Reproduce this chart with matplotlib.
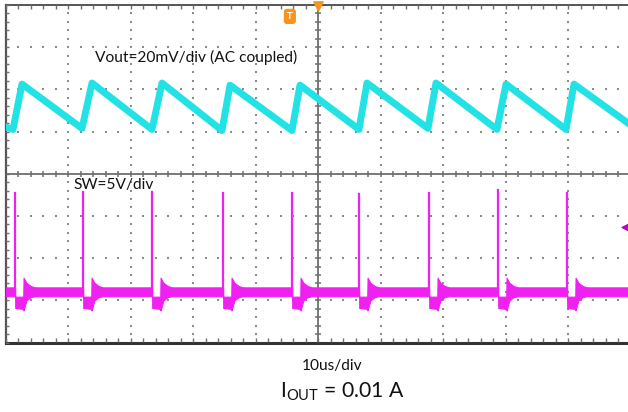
import matplotlib.pyplot as plt
import numpy as np

plt.rcParams['font.family'] = ['Lato', 'DejaVu Sans']
plt.rcParams['mathtext.default'] = 'regular'

# time base 10 us/div, 10 divisions across, 8 divisions high
# Vout: 20 mV/div (AC coupled), trace sits 1.6 div above centre
vout_valley_t = [1.2, 12.24, 23.44, 34.64, 45.84, 56.56, 67.6, 78.64, 89.68]
vout_valley_mv = [-11, -10.5, -11, -11.5, -11.5, -11, -10.5, -11, -11]
vout_peak_t = [2.64, 13.84, 25.04, 35.92, 47.12, 57.84, 68.88, 80.08, 90.96]
vout_peak_mv = [10.5, 11, 11, 10, 10, 11, 11, 10.5, 10.5]
vout_start = (-0.3, -9.5)
vout_end = (99.6, -8.0)
vout_offset_div = 1.6

# SW: 5 V/div, baseline 2.8 div below centre
sw_edge_t = [1.52, 12.4, 23.44, 34.8, 45.84, 56.56, 67.76, 78.8, 89.84]
sw_spike_v = [11.8, 11.9, 11.9, 11.8, 11.8, 11.7, 11.8, 12.1, 11.8]
# band around each switching edge: time offset (us), top (V), bottom (V)
sw_shape_dt = [0.1, 0.12, 1.4, 1.45, 1.9, 2.6, 3.3]
sw_shape_hi = [0.55, -0.55, -0.55, 1.7, 1.1, 0.7, 0.55]
sw_shape_lo = [-0.5, -1.9, -2.0, -2.2, -1.0, -0.6, -0.5]
sw_base_hi, sw_base_lo = 0.55, -0.5
sw_offset_div = -2.815

cyan = '#22e2e6'
magenta = '#f020f0'
orange = '#f7941d'
grid_c = '#8c8c8c'
line_c = '#6e6e6e'

fig = plt.figure(figsize=(6.28, 4.12), dpi=100)
ax = fig.add_axes([5.5 / 628, (412 - 342.5) / 412, 625 / 628, 337.5 / 412])
ax.set_xlim(0, 100)
ax.set_ylim(-4, 4)
ax.axis('off')

# dotted graticule
minor_y = np.arange(-4, 4.01, 0.2)
minor_x = np.arange(0, 100.01, 2)
for gx in range(10, 100, 10):
    if gx == 50:
        continue
    ax.scatter(np.full_like(minor_y, gx), minor_y, s=2.2, marker='s', color=grid_c, lw=0, zorder=1)
for gy in range(-3, 4):
    if gy == 0:
        continue
    ax.scatter(minor_x, np.full_like(minor_x, gy), s=2.2, marker='s', color=grid_c, lw=0, zorder=1)

# centre cross with ticks
ax.axvline(50, color=line_c, lw=1.3, zorder=2)
ax.axhline(0, color=line_c, lw=1.3, zorder=2)
ax.plot(np.full_like(minor_y, 50), minor_y, ls='', marker='_', ms=5, mew=1.1, color=line_c, zorder=2)
ax.plot(minor_x, np.zeros_like(minor_x), ls='', marker='|', ms=5, mew=1.1, color=line_c, zorder=2)

# border with inward ticks
ax.plot([0, 0], [-4, 4], color='#555555', lw=1.6, clip_on=False, zorder=2)
ax.plot([0, 100.6], [4, 4], color='#555555', lw=1.4, clip_on=False, zorder=2)
ax.plot([0, 100.6], [-4, -4], color='#333333', lw=2.2, clip_on=False, zorder=2)
ax.plot(minor_x, np.full_like(minor_x, 3.95), ls='', marker='|', ms=3, mew=1.0, color=line_c, zorder=2)
ax.plot(minor_x, np.full_like(minor_x, -3.95), ls='', marker='|', ms=3, mew=1.0, color=line_c, zorder=2)
ax.plot(np.full_like(minor_y, 0.3), minor_y, ls='', marker='_', ms=3, mew=1.0, color=line_c, zorder=2)

# Vout trace
vt = [vout_start[0]]
vv = [vout_start[1]]
for t0, v0, t1, v1 in zip(vout_valley_t, vout_valley_mv, vout_peak_t, vout_peak_mv):
    vt += [t0, t1]
    vv += [v0, v1]
vt.append(vout_end[0])
vv.append(vout_end[1])
ax.plot(vt, np.array(vv) / 20 + vout_offset_div, color=cyan, lw=5.0,
        solid_joinstyle='round', zorder=3)

# SW trace: noisy band plus narrow spikes
st, shi, slo = [-0.5], [sw_base_hi], [sw_base_lo]
for te in sw_edge_t:
    for dt, h, l in zip(sw_shape_dt, sw_shape_hi, sw_shape_lo):
        st.append(te + dt)
        shi.append(h)
        slo.append(l)
st.append(100.5)
shi.append(sw_base_hi)
slo.append(sw_base_lo)
ax.fill_between(st, np.array(slo) / 5 + sw_offset_div, np.array(shi) / 5 + sw_offset_div,
                color=magenta, lw=0.8, edgecolor=magenta, zorder=3)
for te, vs in zip(sw_edge_t, sw_spike_v):
    ax.plot([te, te], [sw_offset_div, sw_offset_div + vs / 5], color=magenta, lw=1.6, zorder=3)

# markers
ax.scatter([50], [3.97], marker='v', s=45, color=orange, zorder=4, clip_on=False)
ax.text(45.5, 3.73, 'T', color='white', fontsize=7, fontweight='bold', ha='center', va='center',
        bbox=dict(boxstyle='round,pad=0.25', fc=orange, ec=orange), zorder=4)
ax.scatter([99.3], [-1.26], marker='<', s=40, color='#c000c0', zorder=4)

# labels
ax.text(14.3, 2.75, 'Vout=20mV/div (AC coupled)', fontsize=11.2, color='#111111', va='center')
ax.text(10.9, -0.27, 'SW=5V/div', fontsize=11.2, color='#111111', va='center')
fig.text(332 / 628, 1 - 366 / 412, '10us/div', fontsize=11.2, ha='center', va='center', color='#111111')
fig.text(342 / 628, 1 - 392 / 412, '$I_{OUT}$ = 0.01 A', fontsize=15.2, ha='center', va='center',
         color='#111111')

fig.savefig('out.png', dpi=100)
